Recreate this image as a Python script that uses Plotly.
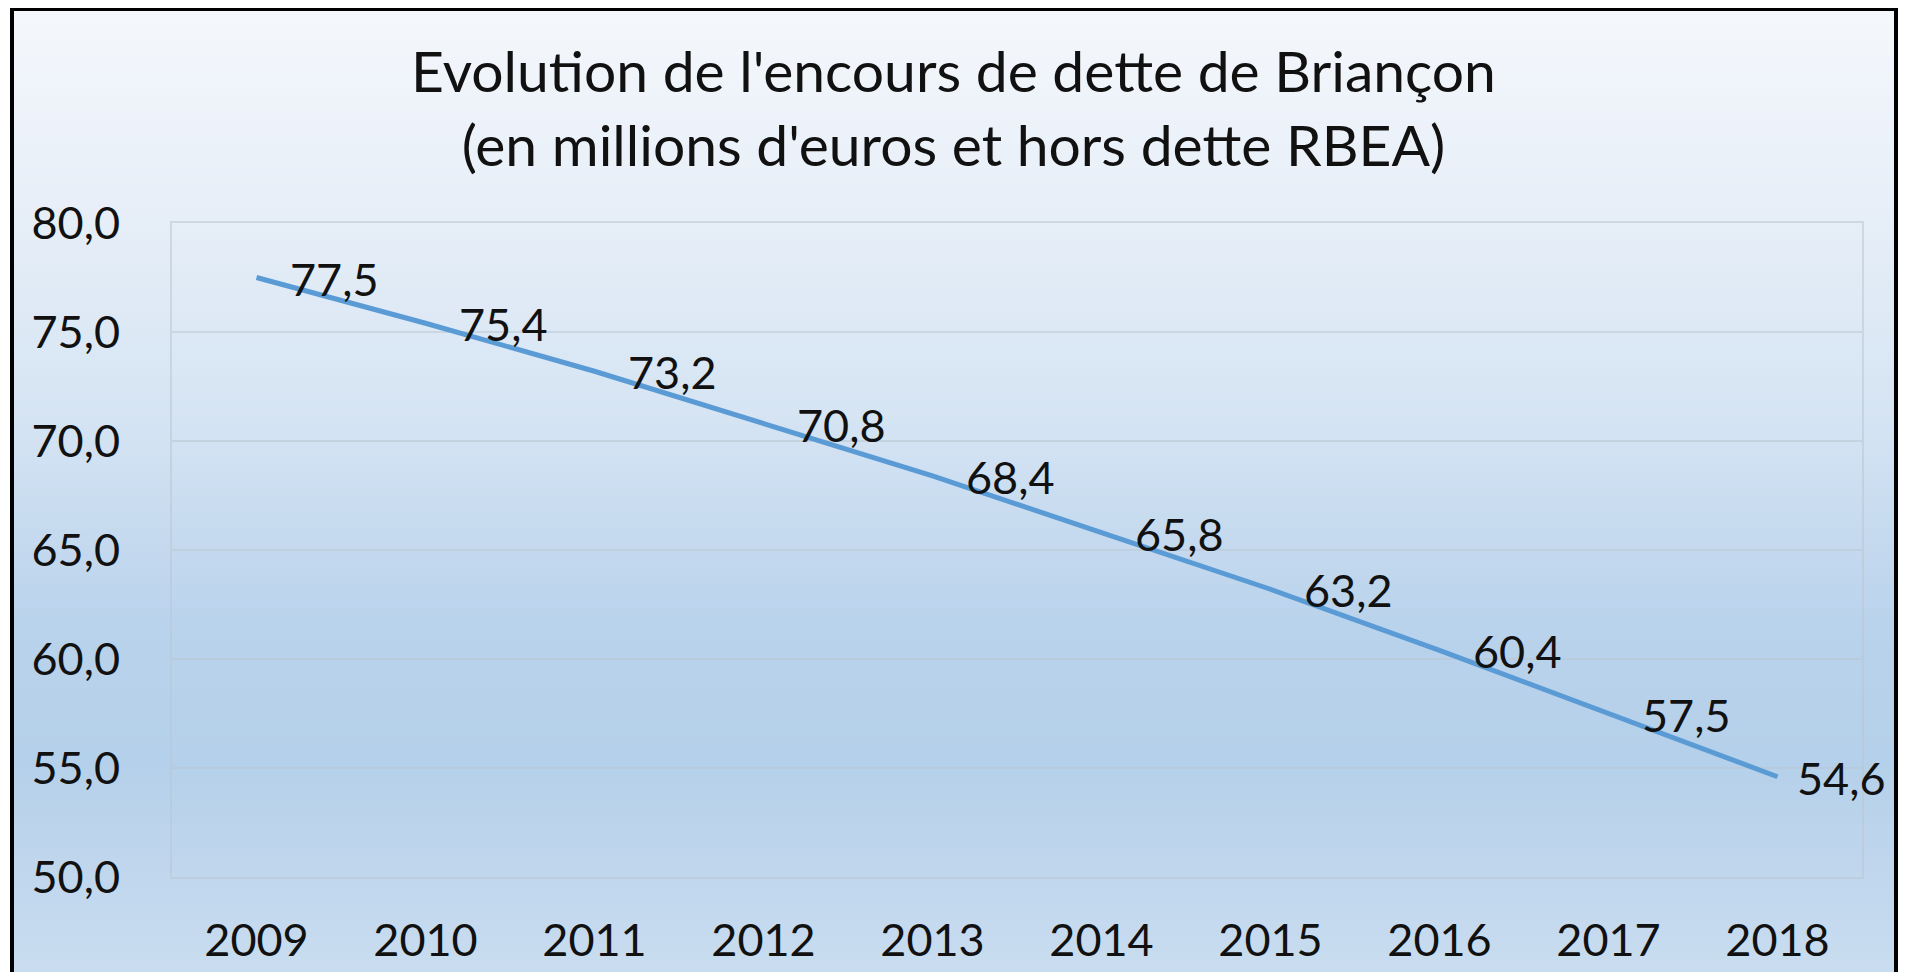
import plotly.graph_objects as go

# data
YEARS = ["2009", "2010", "2011", "2012", "2013", "2014", "2015", "2016", "2017", "2018"]
DEBT = [77.5, 75.4, 73.2, 70.8, 68.4, 65.8, 63.2, 60.4, 57.5, 54.6]
Y_TICKS = [50, 55, 60, 65, 70, 75, 80]

TITLE = "Evolution de l'encours de dette de Briançon<br>(en millions d'euros et hors dette RBEA)"

# the page body keeps its 8px margin, so the figure is 16px smaller than the window
OFF = 8
W, H = 1907 - 2 * OFF, 980 - 2 * OFF
FONT = "Lato"
TEXT_COLOR = "#111111"
LINE_COLOR = "#5B9BD5"
GRID_COLOR = "rgba(185, 198, 212, 0.55)"

# vertical gradient of the chart area: (page pixel row, rgb)
GRADIENT = [
    (0, (245, 248, 252)),
    (200, (232, 239, 248)),
    (420, (213, 228, 243)),
    (620, (186, 211, 236)),
    (760, (181, 208, 234)),
    (980, (202, 221, 240)),
]
FRAME = dict(x0=12, x1=1896, y0=9)
PLOT_BOX = dict(x0=172, x1=1862, y0=223, y1=877)


def _mix(row):
    for (r0, c0), (r1, c1) in zip(GRADIENT, GRADIENT[1:]):
        if r0 <= row <= r1:
            t = (row - r0) / (r1 - r0)
            return tuple(round(a + (b - a) * t) for a, b in zip(c0, c1))
    return GRADIENT[-1][1]


def _px(x, y):
    # page pixels -> paper fractions
    return (x - OFF) / W, 1 - (y - OFF) / H


shapes = []
band = 8
for top in range(FRAME["y0"], 990, band):
    r, g, b = _mix(top + band / 2)
    x0, y0 = _px(FRAME["x0"], top)
    x1, y1 = _px(FRAME["x1"], top + band + 1)
    shapes.append(dict(type="rect", xref="paper", yref="paper", x0=x0, x1=x1, y0=y1, y1=y0,
                       fillcolor=f"rgb({r},{g},{b})", line_width=0, layer="below"))
fx0, fy0 = _px(FRAME["x0"], FRAME["y0"])
fx1, _ = _px(FRAME["x1"], 0)
shapes.append(dict(type="rect", xref="paper", yref="paper", x0=fx0, x1=fx1, y0=-0.05, y1=fy0,
                   line=dict(color="#000000", width=4), fillcolor="rgba(0,0,0,0)", layer="above"))

px0, py1 = _px(PLOT_BOX["x0"], PLOT_BOX["y1"])
px1, py0 = _px(PLOT_BOX["x1"], PLOT_BOX["y0"])

# data labels to the right of each point; the last one is pulled in to stay inside the frame
# (category axis: annotations take the category index, not the label)
annotations = []
for i, value in enumerate(DEBT):
    annotations.append(dict(
        x=i,
        y=value,
        xref="x",
        yref="y",
        text=f"{value:.1f}".replace(".", ","),
        showarrow=False,
        xanchor="left",
        yanchor="middle",
        xshift=31 if i < len(DEBT) - 1 else 17,
        yshift=-1,
        font=dict(family=FONT, size=45, color=TEXT_COLOR),
    ))

fig = go.Figure(
    go.Scatter(
        x=YEARS,
        y=DEBT,
        mode="lines",
        line=dict(color=LINE_COLOR, width=5),
        hoverinfo="x+y",
    )
)

fig.update_layout(
    width=W,
    height=H,
    separators=", ",
    margin=dict(l=0, r=0, t=0, b=0),
    paper_bgcolor="#FFFFFF",
    plot_bgcolor="rgba(255,255,255,0.32)",
    font=dict(family=FONT, color=TEXT_COLOR),
    showlegend=False,
    shapes=shapes,
    annotations=annotations,
    title=dict(
        text=TITLE,
        x=0.5,
        xanchor="center",
        y=1 - 84 / H,
        yanchor="top",
        font=dict(family=FONT, size=57, color=TEXT_COLOR),
    ),
)
fig.update_xaxes(
    domain=[px0, px1],
    type="category",
    range=[-0.5, len(YEARS) - 0.5],
    showgrid=False,
    ticks="outside",
    ticklen=23,
    tickcolor="rgba(0,0,0,0)",
    tickfont=dict(family=FONT, size=45, color=TEXT_COLOR),
    showline=True,
    mirror=True,
    linecolor=GRID_COLOR,
    linewidth=2,
    automargin=False,
    fixedrange=True,
)
fig.update_yaxes(
    domain=[py1, py0],
    range=[50, 80],
    tickvals=Y_TICKS,
    tickformat=".1f",
    gridcolor=GRID_COLOR,
    gridwidth=2,
    zeroline=False,
    ticks="outside",
    ticklen=41,
    tickcolor="rgba(0,0,0,0)",
    tickfont=dict(family=FONT, size=45, color=TEXT_COLOR),
    showline=True,
    mirror=True,
    linecolor=GRID_COLOR,
    linewidth=2,
    automargin=False,
    fixedrange=True,
)

fig.write_html("out.html")
